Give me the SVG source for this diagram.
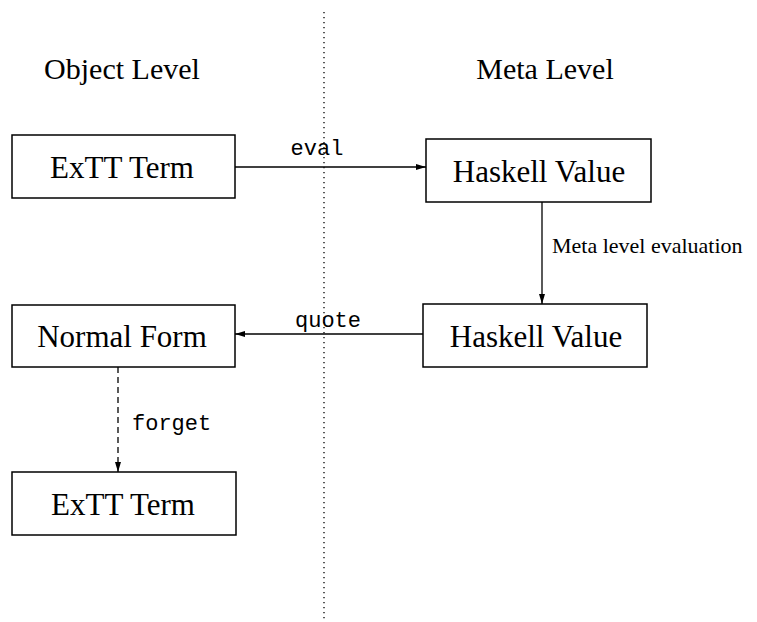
<svg xmlns="http://www.w3.org/2000/svg" width="757" height="622" viewBox="0 0 757 622">
<style>
.box{fill:#fff;stroke:#000;stroke-width:1.5}
.t{font-family:"Liberation Serif","Times New Roman",serif;font-size:31px;fill:#000;text-anchor:middle}
.h{font-family:"Liberation Serif","Times New Roman",serif;font-size:30px;fill:#000;text-anchor:middle}
.m{font-family:"Liberation Mono","Courier New",monospace;font-size:22px;fill:#000}
.s{font-family:"Liberation Serif","Times New Roman",serif;font-size:22px;fill:#000}
.c{stroke:#000;stroke-width:1.3;fill:none}
</style>
<defs>
<marker id="ah" markerWidth="10" markerHeight="6" refX="10" refY="3" orient="auto" markerUnits="userSpaceOnUse">
<path d="M0,0 L10,3 L0,6 Z" fill="#000"/>
</marker>
</defs>
<g id="divider">
<line x1="324" y1="12" x2="324" y2="620" stroke="#000" stroke-width="1.3" stroke-dasharray="1.3,3.7"/>
</g>
<g id="headers">
<text class="h" x="122" y="79">Object Level</text>
<text class="h" x="545" y="79">Meta Level</text>
</g>
<g id="connectors">
<line class="c" x1="235" y1="167" x2="426" y2="167" marker-end="url(#ah)"/>
<text class="m" x="317" y="155" text-anchor="middle">eval</text>
<line class="c" x1="542" y1="202" x2="542" y2="304" marker-end="url(#ah)"/>
<text class="s" x="552" y="253">Meta level evaluation</text>
<line class="c" x1="423" y1="334" x2="235" y2="334" marker-end="url(#ah)"/>
<text class="m" x="328" y="327" text-anchor="middle">quote</text>
<line class="c" x1="118" y1="367" x2="118" y2="472" stroke-dasharray="6,4" marker-end="url(#ah)"/>
<text class="m" x="132" y="430">forget</text>
</g>
<g id="exttTerm1">
<rect class="box" x="12" y="135" width="223" height="63"/>
<text class="t" x="122" y="178">ExTT Term</text>
</g>
<g id="haskellValue1">
<rect class="box" x="426" y="139" width="225" height="63"/>
<text class="t" x="539" y="182">Haskell Value</text>
</g>
<g id="haskellValue2">
<rect class="box" x="423" y="304" width="224" height="63"/>
<text class="t" x="536" y="347">Haskell Value</text>
</g>
<g id="normalForm">
<rect class="box" x="12" y="305" width="223" height="62"/>
<text class="t" x="122" y="347">Normal Form</text>
</g>
<g id="exttTerm2">
<rect class="box" x="12" y="472" width="224" height="63"/>
<text class="t" x="123" y="515">ExTT Term</text>
</g>
</svg>
